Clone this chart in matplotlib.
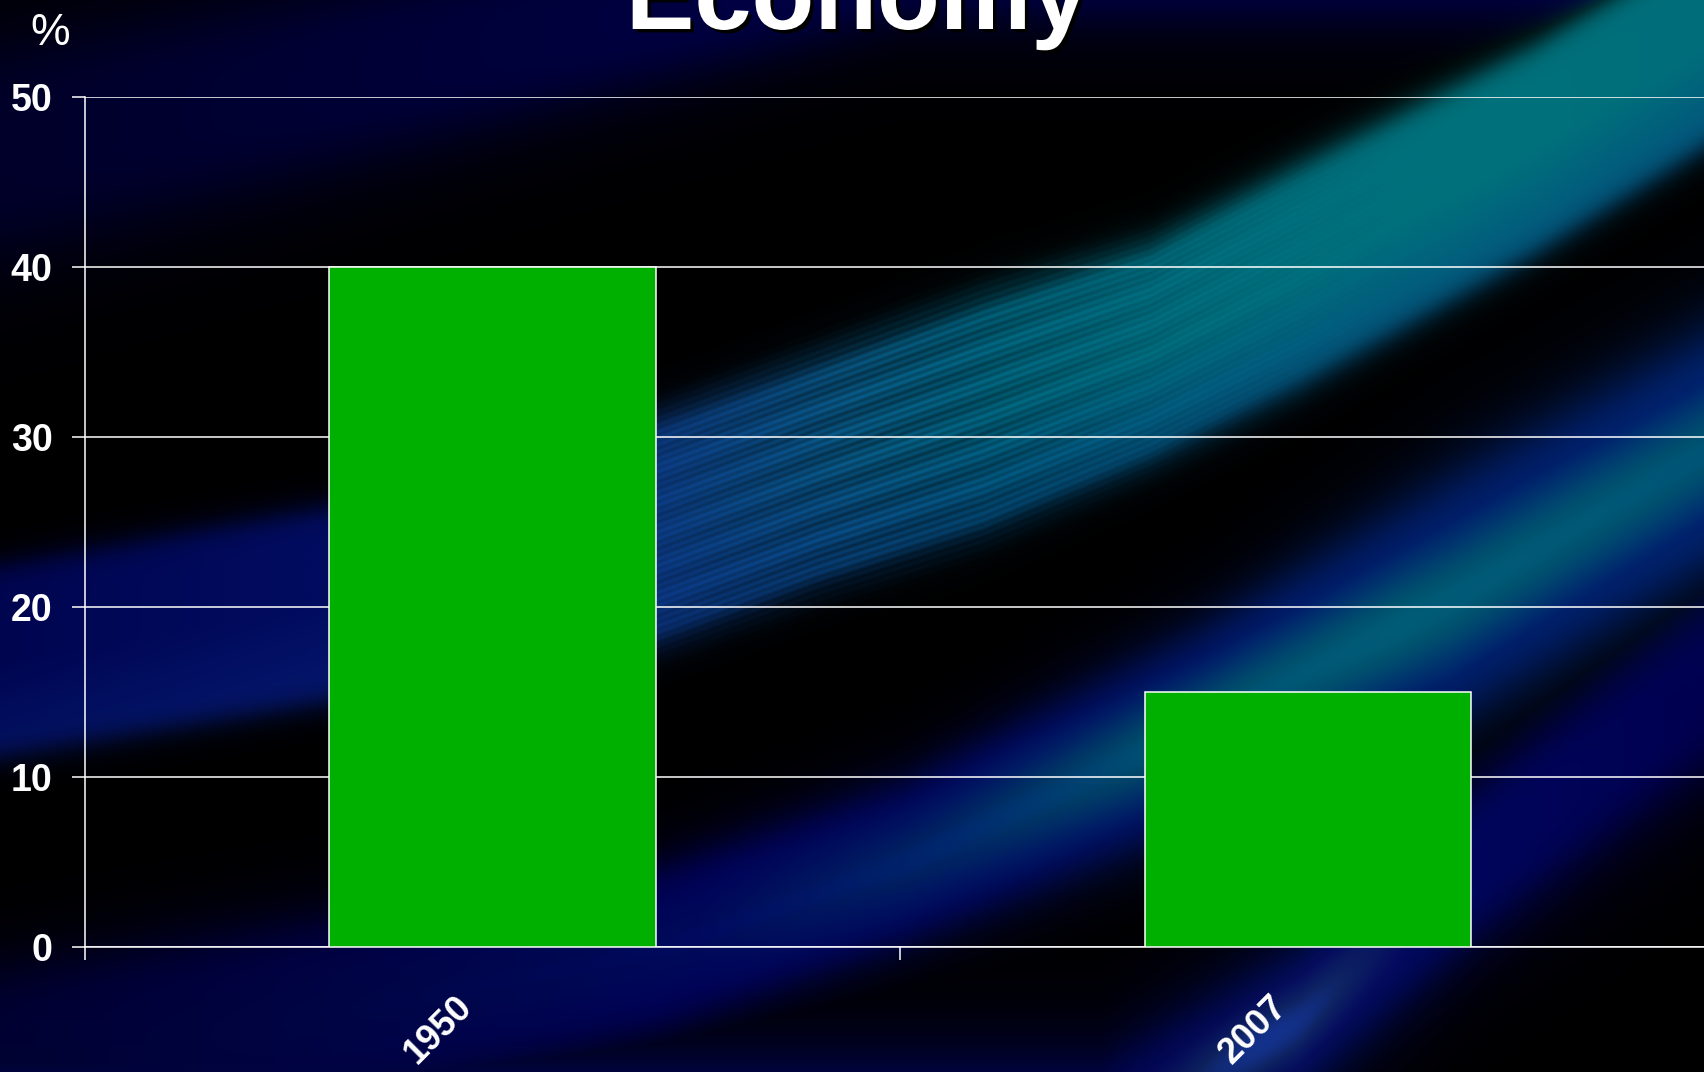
import matplotlib
matplotlib.use("Agg")
import matplotlib.pyplot as plt
import matplotlib.patheffects as pe
from matplotlib.transforms import ScaledTranslation
import numpy as np

plt.rcParams['font.family'] = ['Liberation Sans', 'DejaVu Sans']

years = ['1950', '2007']
share = [40, 15]
yticks = [0, 10, 20, 30, 40, 50]

W, H, DPI = 1704, 1072, 100
xx = np.arange(W, dtype=float)
yy = np.arange(H, dtype=float)[:, None]


def band(xs, cs, hws, sharp=8):
    # soft-edged swoosh following a centreline given at a few x nodes
    c = np.interp(xx, xs, cs)[None, :]
    hw = np.interp(xx, xs, hws)[None, :]
    v = (yy - c) / hw
    return v, 1.0 / (1.0 + np.abs(v) ** sharp)


def colour_along(xs, cols):
    cols = np.asarray(cols, dtype=float) / 255.0
    return np.stack([np.interp(xx, xs, cols[:, k]) for k in range(3)], -1)[None, :, :]


img = np.zeros((H, W, 3))

# top-left navy haze
v, p = band([0, 300, 600, 900], [150, 85, 20, -50], [110, 95, 80, 70], sharp=4)
img = np.maximum(img, p[..., None] * colour_along([0, 900], [(0, 0, 42), (0, 0, 72)]))

# lower swoosh: navy on the left, teal core on the right
bx = [0, 350, 657, 906, 1000, 1200, 1449, 1704]
v, p = band(bx, [1075, 1010, 950, 862, 818, 725, 601, 452],
            [110, 100, 85, 85, 90, 100, 128, 123], sharp=6)
img = np.maximum(img, p[..., None] * colour_along(
    [0, 400, 700, 1000, 1300, 1704],
    [(0, 0, 50), (0, 0, 72), (0, 2, 90), (0, 10, 100), (0, 30, 110), (0, 35, 112)]))
core = np.exp(-(v / 0.6) ** 2)
img = np.maximum(img, core[..., None] * colour_along(
    [0, 700, 950, 1150, 1400, 1704],
    [(0, 0, 45), (0, 10, 95), (0, 40, 110), (0, 80, 115), (0, 92, 120), (0, 85, 118)]))

# narrow navy swoosh in the bottom-right
v, p = band([1100, 1300, 1480, 1704], [1140, 1020, 858, 683], [85, 80, 84, 92], sharp=4)
img = np.maximum(img, p[..., None] * colour_along(
    [1100, 1300, 1500, 1704], [(0, 5, 85), (0, 15, 100), (0, 5, 90), (0, 0, 80)]))
glow = np.exp(-(v / 0.5) ** 2) * np.exp(-((xx - 1270) / 120.0) ** 2)[None, :]
img = np.maximum(img, glow[..., None] * np.array([20, 50, 140])[None, None, :] / 255.0)

# main teal swoosh, streaked in the middle
ax_nodes = [0, 350, 657, 817, 983, 1150, 1300, 1533, 1704]
v, p = band(ax_nodes, [660, 600, 530, 471, 414, 352, 275, 150, 45],
            [96, 98, 114, 114, 118, 110, 112, 106, 104], sharp=12)
streak_w = np.exp(-((xx - 880) / 280.0) ** 2)[None, :]
fine = 0.5 + 0.5 * np.sin(2 * np.pi * v * 17)
coarse = 0.5 + 0.5 * np.sin(2 * np.pi * v * 3.5 + 1.0)
mod = 1.0 - streak_w * (0.25 * (1 - fine) + 0.2 * (1 - coarse))
teal = colour_along([0, 400, 650, 850, 1000, 1200, 1450, 1704],
                    [(0, 5, 80), (2, 14, 100), (12, 60, 135), (8, 92, 138),
                     (0, 106, 132), (0, 112, 128), (0, 114, 124), (0, 110, 122)])
# lower half of the swoosh leans bluer
blue_mix = np.clip(v, 0, 1)[..., None] * 0.4
tone = teal * (1 - blue_mix) + np.array([8, 40, 130])[None, None, :] / 255.0 * blue_mix
img = np.maximum(img, (p * mod)[..., None] * tone)
img = np.clip(img, 0, 1)

fig = plt.figure(figsize=(W / DPI, H / DPI), dpi=DPI, facecolor='black')
bg = fig.add_axes([0, 0, 1, 1])
bg.imshow(img, extent=[0, 1, 0, 1], aspect='auto', interpolation='bilinear')
bg.set_axis_off()

ax = fig.add_axes([85 / W, 125 / H, 1630 / W, 850 / H])
ax.set_facecolor('none')
ax.bar(range(len(years)), share, width=0.4, color='#00B000',
       edgecolor='white', linewidth=1.1, zorder=3)
ax.set_xlim(-0.5, len(years) - 0.5)
ax.set_ylim(0, 50)

ax.set_yticks(yticks)
ax.set_yticklabels([str(t) for t in yticks], fontweight='bold')
ax.yaxis.grid(True, color='white', linewidth=1.1)
ax.set_axisbelow(True)
ax.tick_params(axis='y', colors='white', length=9.4, width=1.1, pad=14, labelsize=27)

# category boundaries carry the ticks, the years sit between them
ax.set_xticks(np.arange(len(years) + 1) - 0.5, labels=[])
ax.set_xticks(range(len(years)), labels=years, minor=True)
ax.tick_params(axis='x', which='major', colors='white', length=9.4, width=1.1)
ax.tick_params(axis='x', which='minor', length=0, pad=30)
shift = ScaledTranslation(-0.13, 0, fig.dpi_scale_trans)
for lbl in ax.get_xticklabels(minor=True):
    lbl.set_rotation(45)
    lbl.set_ha('right')
    lbl.set_va('top')
    lbl.set_fontweight('bold')
    lbl.set_fontsize(26)
    lbl.set_color('white')
    lbl.set_transform(lbl.get_transform() + shift)

for side in ['top', 'right']:
    ax.spines[side].set_visible(False)
for side in ['left', 'bottom']:
    ax.spines[side].set_color('white')
    ax.spines[side].set_linewidth(1.1)

fig.text(857 / W, 1 - 29 / H, 'Economy', ha='center', va='baseline',
         fontsize=74, fontweight='bold', color='white',
         path_effects=[pe.withSimplePatchShadow(offset=(2.5, -2.5),
                                                shadow_rgbFace='black', alpha=1.0)])
fig.text(50 / W, 1 - 45 / H, '%', ha='center', va='baseline', fontsize=32, color='white')

fig.savefig('out.png', dpi=DPI, facecolor='black')
